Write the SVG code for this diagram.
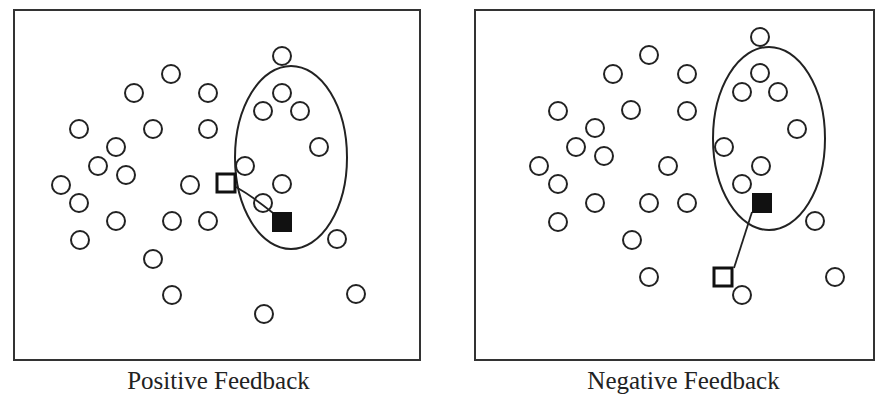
<svg xmlns="http://www.w3.org/2000/svg" width="877" height="395" viewBox="0 0 877 395">
<style>
.frame{fill:none;stroke:#333;stroke-width:2}
.c{fill:#fff;stroke:#222;stroke-width:2}
.ell{fill:none;stroke:#222;stroke-width:2}
.hs{fill:#fff;stroke:#111;stroke-width:3}
.fs{fill:#111}
.link{fill:none;stroke:#222;stroke-width:1.8}
.lbl{font-family:"Liberation Serif","Times New Roman",serif;font-size:25px;fill:#222;text-anchor:middle}
</style>
<rect width="877" height="395" fill="#fff"/>
<g id="positive-panel">
<rect class="frame" x="14" y="10" width="406" height="350"/>
<ellipse class="ell" cx="291" cy="157.5" rx="56" ry="91.5"/>
<g id="positive-particles">
<circle class="c" cx="282" cy="56" r="9"/>
<circle class="c" cx="171" cy="74" r="9"/>
<circle class="c" cx="134" cy="93" r="9"/>
<circle class="c" cx="208" cy="93" r="9"/>
<circle class="c" cx="282" cy="93" r="9"/>
<circle class="c" cx="263" cy="111" r="9"/>
<circle class="c" cx="300" cy="111" r="9"/>
<circle class="c" cx="79" cy="129" r="9"/>
<circle class="c" cx="153" cy="129" r="9"/>
<circle class="c" cx="208" cy="129" r="9"/>
<circle class="c" cx="116" cy="147" r="9"/>
<circle class="c" cx="319" cy="147" r="9"/>
<circle class="c" cx="98" cy="166" r="9"/>
<circle class="c" cx="245" cy="166" r="9"/>
<circle class="c" cx="126" cy="175" r="9"/>
<circle class="c" cx="61" cy="185" r="9"/>
<circle class="c" cx="190" cy="185" r="9"/>
<circle class="c" cx="282" cy="184" r="9"/>
<circle class="c" cx="79" cy="203" r="9"/>
<circle class="c" cx="263" cy="203" r="9"/>
<circle class="c" cx="116" cy="221" r="9"/>
<circle class="c" cx="172" cy="221" r="9"/>
<circle class="c" cx="208" cy="221" r="9"/>
<circle class="c" cx="80" cy="240" r="9"/>
<circle class="c" cx="337" cy="239" r="9"/>
<circle class="c" cx="153" cy="259" r="9"/>
<circle class="c" cx="172" cy="295" r="9"/>
<circle class="c" cx="356" cy="294" r="9"/>
<circle class="c" cx="264" cy="314" r="9"/>
</g>
<g id="positive-link">
<path class="link" d="M236 187 Q252 196 273 213"/>
</g>
<g id="positive-hollow-square"><rect class="hs" x="217" y="174" width="18" height="18"/></g>
<g id="positive-filled-square"><rect class="fs" x="272" y="212" width="20" height="20"/></g>
<text class="lbl" x="218.5" y="389">Positive Feedback</text>
</g>
<g id="negative-panel">
<rect class="frame" x="475" y="10" width="399" height="350"/>
<ellipse class="ell" cx="769" cy="138.5" rx="56" ry="91.5"/>
<g id="negative-particles">
<circle class="c" cx="760" cy="37" r="9"/>
<circle class="c" cx="649" cy="55" r="9"/>
<circle class="c" cx="613" cy="74" r="9"/>
<circle class="c" cx="687" cy="74" r="9"/>
<circle class="c" cx="760" cy="73" r="9"/>
<circle class="c" cx="742" cy="92" r="9"/>
<circle class="c" cx="778" cy="92" r="9"/>
<circle class="c" cx="558" cy="111" r="9"/>
<circle class="c" cx="631" cy="110" r="9"/>
<circle class="c" cx="687" cy="111" r="9"/>
<circle class="c" cx="595" cy="128" r="9"/>
<circle class="c" cx="797" cy="129" r="9"/>
<circle class="c" cx="576" cy="147" r="9"/>
<circle class="c" cx="724" cy="147" r="9"/>
<circle class="c" cx="604" cy="156" r="9"/>
<circle class="c" cx="539" cy="166" r="9"/>
<circle class="c" cx="668" cy="166" r="9"/>
<circle class="c" cx="761" cy="166" r="9"/>
<circle class="c" cx="558" cy="184" r="9"/>
<circle class="c" cx="742" cy="184" r="9"/>
<circle class="c" cx="595" cy="203" r="9"/>
<circle class="c" cx="649" cy="203" r="9"/>
<circle class="c" cx="687" cy="203" r="9"/>
<circle class="c" cx="558" cy="222" r="9"/>
<circle class="c" cx="815" cy="221" r="9"/>
<circle class="c" cx="632" cy="240" r="9"/>
<circle class="c" cx="649" cy="277" r="9"/>
<circle class="c" cx="835" cy="277" r="9"/>
<circle class="c" cx="742" cy="295" r="9"/>
</g>
<g id="negative-link">
<path class="link" d="M752 212 L734 268"/>
</g>
<g id="negative-filled-square"><rect class="fs" x="752" y="193" width="20" height="20"/></g>
<g id="negative-hollow-square"><rect class="hs" x="714" y="268" width="18" height="18"/></g>
<text class="lbl" x="683.5" y="389">Negative Feedback</text>
</g>
</svg>
